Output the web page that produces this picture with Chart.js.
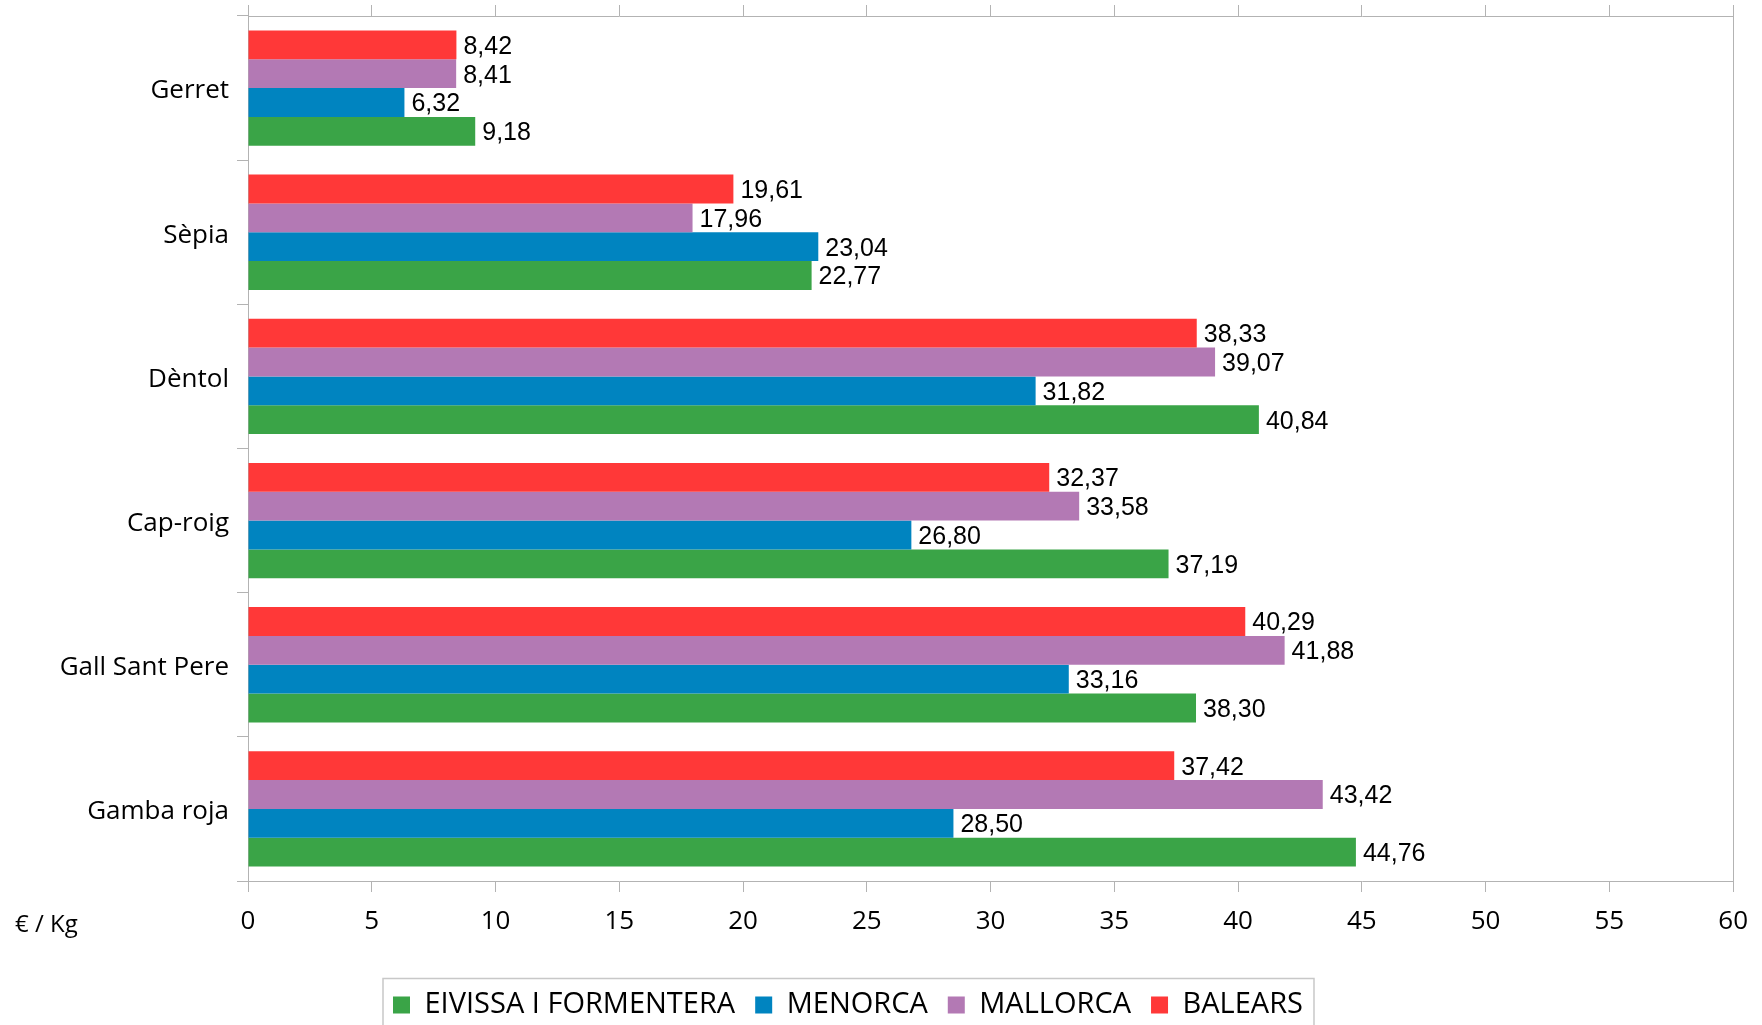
<!DOCTYPE html>
<html lang="ca">
<head>
    <meta charset="UTF-8">
    <title>Preu mitjà per espècie - € / Kg</title>
    <script src="https://cdn.jsdelivr.net/npm/chart.js"></script>
    <style>
        body {
            margin: 0;
            background: #fff;
        }
        .chart-box {
            position: relative;
            width: 1762px;
            height: 1025px;
        }
    </style>
</head>
<body>
    <div class="chart-box">
        <canvas id="chart"></canvas>
    </div>

    <script>
        // Dades (llegides del gràfic)
        const especies = ['Gerret', 'Sèpia', 'Dèntol', 'Cap-roig', 'Gall Sant Pere', 'Gamba roja'];
        const balears  = [8.42, 19.61, 38.33, 32.37, 40.29, 37.42];
        const mallorca = [8.41, 17.96, 39.07, 33.58, 41.88, 43.42];
        const menorca  = [6.32, 23.04, 31.82, 26.80, 33.16, 28.50];
        const eivissa  = [9.18, 22.77, 40.84, 37.19, 38.30, 44.76];
        const eixMin = 0;
        const eixMax = 60;
        const eixPas = 5;
        const unitat = '€ / Kg';

        const gris = '#b3b3b3';
        const fontText = "'Open Sans', 'Noto Sans', sans-serif";

        // Etiquetes de valor al final de cada barra
        const valorsPlugin = {
            id: 'valors',
            afterDatasetsDraw(chart) {
                const ctx = chart.ctx;
                ctx.save();
                ctx.font = "25px 'Liberation Sans', Arial, sans-serif";
                ctx.fillStyle = '#000';
                ctx.textAlign = 'left';
                ctx.textBaseline = 'middle';
                chart.data.datasets.forEach((ds, i) => {
                    chart.getDatasetMeta(i).data.forEach((bar, j) => {
                        const txt = ds.data[j].toFixed(2).replace('.', ',');
                        ctx.fillText(txt, bar.x + 7, bar.y + 2);
                    });
                });
                ctx.restore();
            }
        };

        // Llegenda: posició i marc
        const llegendaPlugin = {
            id: 'llegendaMarc',
            afterLayout(chart) {
                const lg = chart.legend;
                const pad = lg.options.labels.padding;
                const mida = lg.options.labels.font.size;
                const dx = 848 - (lg.left + lg.right) / 2;
                lg.left += dx;
                lg.right += dx;
                const dy = 1005 - (lg.top + pad + mida / 2);
                lg.top += dy;
                lg.bottom += dy;
            },
            afterDraw(chart) {
                const lg = chart.legend;
                const ctx = chart.ctx;
                const pad = lg.options.labels.padding;
                const amplada = lg.lineWidths[0] - pad;
                const x0 = (lg.left + lg.right) / 2 - amplada / 2 - 10;
                const x1 = (lg.left + lg.right) / 2 + amplada / 2 + 11;
                ctx.save();
                ctx.strokeStyle = '#c8c8c8';
                ctx.lineWidth = 1.5;
                ctx.strokeRect(x0, 978.5, x1 - x0, 60);
                // unitat de l'eix
                ctx.font = "24px " + fontText;
                ctx.fillStyle = '#000';
                ctx.textBaseline = 'middle';
                ctx.fillText(unitat, 15, 925);
                ctx.restore();
            }
        };

        const ctx = document.getElementById('chart').getContext('2d');

        new Chart(ctx, {
            type: 'bar',
            data: {
                labels: especies,
                datasets: [
                    { label: 'BALEARS', data: balears, backgroundColor: '#ff3838' },
                    { label: 'MALLORCA', data: mallorca, backgroundColor: '#b379b4' },
                    { label: 'MENORCA', data: menorca, backgroundColor: '#0084c0' },
                    { label: 'EIVISSA I FORMENTERA', data: eivissa, backgroundColor: '#3aa447' }
                ]
            },
            options: {
                indexAxis: 'y',
                responsive: true,
                maintainAspectRatio: false,
                animation: false,
                layout: {
                    padding: { left: 0, right: 28, top: 0, bottom: 0 }
                },
                datasets: {
                    bar: { categoryPercentage: 0.8, barPercentage: 1, borderWidth: 0 }
                },
                plugins: {
                    tooltip: { enabled: false },
                    legend: {
                        position: 'bottom',
                        reverse: true,
                        labels: {
                            color: '#000',
                            boxWidth: 17,
                            boxHeight: 17,
                            padding: 20,
                            font: { family: fontText, size: 29 }
                        }
                    }
                },
                scales: {
                    x: {
                        position: 'bottom',
                        min: eixMin,
                        max: eixMax,
                        ticks: {
                            stepSize: eixPas,
                            color: '#000',
                            padding: 14,
                            font: { family: fontText, size: 26 }
                        },
                        grid: { drawOnChartArea: false, tickLength: 11, color: gris },
                        border: { color: gris },
                        afterFit(s) { s.height = 1025 - 881 - s.chart.legend.height; }
                    },
                    xTop: {
                        type: 'linear',
                        position: 'top',
                        min: eixMin,
                        max: eixMax,
                        ticks: { display: false, stepSize: eixPas },
                        grid: { drawOnChartArea: false, tickLength: 11, color: gris },
                        border: { color: gris },
                        afterFit(s) { s.height = 16; }
                    },
                    y: {
                        ticks: {
                            color: '#000',
                            padding: 8,
                            labelOffset: 3,
                            font: { family: fontText, size: 26 }
                        },
                        grid: { drawOnChartArea: false, tickLength: 11, color: gris },
                        border: { color: gris },
                        afterFit(s) {
                            s.width = 248;
                            s.paddingTop = 0;
                            s.paddingBottom = 0;
                        }
                    },
                    yRight: {
                        type: 'category',
                        position: 'right',
                        labels: especies,
                        ticks: { display: false },
                        grid: { display: false },
                        border: { color: gris },
                        afterFit(s) {
                            s.width = 0;
                            s.paddingTop = 0;
                            s.paddingBottom = 0;
                        }
                    }
                }
            },
            plugins: [valorsPlugin, llegendaPlugin]
        });
    </script>
</body>
</html>
